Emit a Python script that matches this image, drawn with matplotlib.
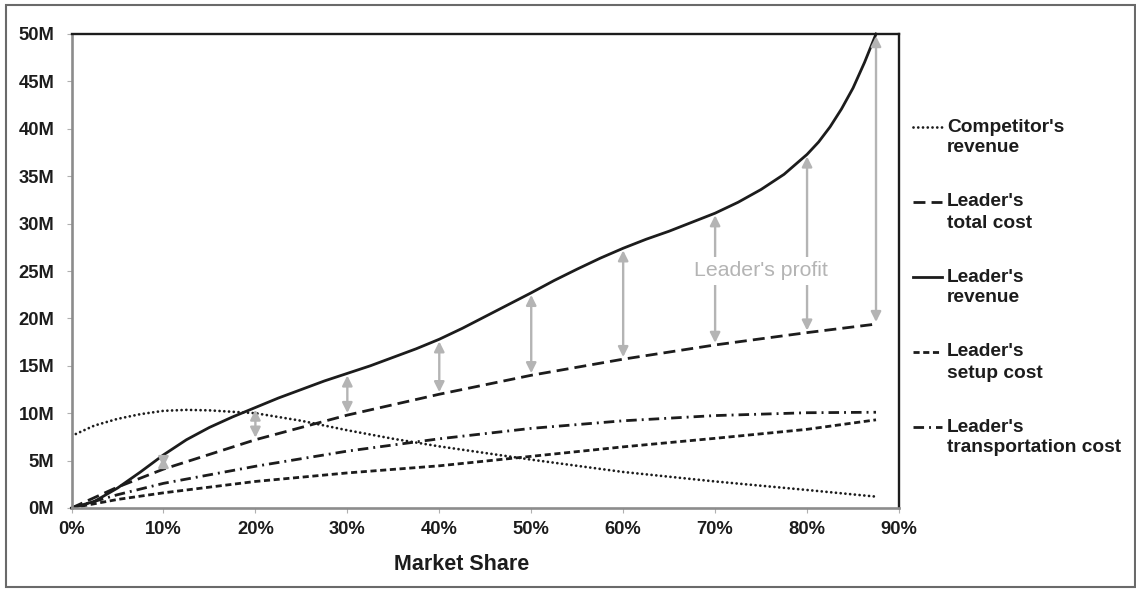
import matplotlib.pyplot as plt
import matplotlib.lines as mlines
import matplotlib.patches as mpatches
from matplotlib.ticker import FuncFormatter, MultipleLocator

plt.rcParams['font.family'] = ['Liberation Sans', 'DejaVu Sans']

# market share (%) and values (millions)
rev_share = [0, 2.5, 5, 7.5, 10, 12.5, 15, 17.5, 20, 22.5, 25, 27.5, 30, 32.5,
             35, 37.5, 40, 42.5, 45, 47.5, 50, 52.5, 55, 57.5, 60, 62.5, 65,
             67.5, 70, 72.5, 75, 77.5, 80, 81.25, 82.5, 83.75, 85, 86.25, 87.5]
leader_revenue = [0, 0.7, 2.1, 3.8, 5.6, 7.2, 8.5, 9.6, 10.6, 11.6, 12.5, 13.4,
                  14.2, 15.0, 15.9, 16.8, 17.8, 18.95, 20.2, 21.45, 22.7, 24.0,
                  25.2, 26.35, 27.4, 28.35, 29.2, 30.15, 31.1, 32.25, 33.6,
                  35.2, 37.3, 38.6, 40.2, 42.1, 44.3, 47.0, 50.0]

comp_share = [0, 2.5, 5, 7.5, 10, 12.5, 15, 20, 25, 30, 35, 40, 45, 50, 60,
              70, 80, 87.5]
competitor_revenue = [7.6, 8.7, 9.4, 9.9, 10.25, 10.35, 10.3, 10.0, 9.2, 8.2,
                      7.3, 6.5, 5.8, 5.1, 3.8, 2.8, 1.9, 1.2]

cost_share = [0, 5, 10, 20, 30, 40, 50, 60, 70, 80, 87.5]
total_cost = [0, 2.2, 4.1, 7.2, 9.8, 12.0, 14.0, 15.7, 17.2, 18.5, 19.4]
setup_cost = [0, 0.9, 1.6, 2.8, 3.7, 4.45, 5.45, 6.45, 7.35, 8.3, 9.3]
transport_cost = [0, 1.4, 2.6, 4.4, 6.0, 7.3, 8.4, 9.2, 9.75, 10.05, 10.1]

profit_share = [10, 20, 30, 40, 50, 60, 70, 80, 87.5]

ink = '#1c1c1c'
grey = '#b4b4b4'
LW = 2.0

styles = {
    'competitor': dict(dashes=(0.01, 1.7), dash_capstyle='round'),
    'total': dict(dashes=(4.3, 2.2)),
    'revenue': dict(linestyle='-'),
    'setup': dict(dashes=(2.2, 1.3)),
    'transport': dict(dashes=(3.8, 1.8, 0.7, 1.8)),
}

fig = plt.figure(figsize=(11.36, 5.89), dpi=100)
ax = fig.add_axes([71.5 / 1136, 1 - 508 / 589, (899 - 71.5) / 1136, (508 - 34) / 589])

ax.plot(comp_share, competitor_revenue, color=ink, lw=LW, **styles['competitor'])
ax.plot(cost_share, total_cost, color=ink, lw=LW, **styles['total'])
ax.plot(cost_share, setup_cost, color=ink, lw=LW, **styles['setup'])
ax.plot(cost_share, transport_cost, color=ink, lw=LW, **styles['transport'])
ax.plot(rev_share, leader_revenue, color=ink, lw=LW, clip_on=False, **styles['revenue'])

# profit arrows between revenue and total cost
rev_at = dict(zip(rev_share, leader_revenue))
cost_at = dict(zip(cost_share, total_cost))
for s in profit_share:
    ax.annotate('', xy=(s, cost_at[s]), xytext=(s, rev_at[s]),
                arrowprops=dict(arrowstyle='<|-|>,head_length=0.6,head_width=0.3',
                                color=grey, lw=1.7, mutation_scale=10,
                                shrinkA=1.5, shrinkB=1.5))

ax.text(75, 25, "Leader's profit", color=grey, fontsize=15.3, ha='center', va='center',
        zorder=5, bbox=dict(boxstyle='square,pad=0.22', fc='white', ec='none'))

ax.set_xlim(0, 90)
ax.set_ylim(0, 50)
ax.xaxis.set_major_locator(MultipleLocator(10))
ax.yaxis.set_major_locator(MultipleLocator(5))
ax.xaxis.set_major_formatter(FuncFormatter(lambda v, p: f'{v:.0f}%'))
ax.yaxis.set_major_formatter(FuncFormatter(lambda v, p: f'{v:.0f}M'))

for side in ['top', 'right']:
    ax.spines[side].set_color(ink)
    ax.spines[side].set_linewidth(1.7)
for side in ['left', 'bottom']:
    ax.spines[side].set_color('#8c8c8c')
    ax.spines[side].set_linewidth(1.9)

ax.tick_params(axis='y', length=3.5, width=0.8, color='#b0b0b0', pad=9,
               labelsize=13.2, labelcolor=ink)
ax.tick_params(axis='x', length=3.5, width=0.8, color='#b0b0b0', pad=6,
               labelsize=13.2, labelcolor=ink)
for lab in ax.get_xticklabels() + ax.get_yticklabels():
    lab.set_fontweight('bold')

ax.set_xlabel('Market Share', fontsize=15.5, fontweight='bold', color=ink)
ax.xaxis.set_label_coords((462 - 71.5) / 827.5, -(565 - 508) / 474)
ax.xaxis.label.set_va('center')

# legend drawn to the right of the plot
legend_rows = [
    ('competitor', "Competitor's", 'revenue', 127),
    ('total', "Leader's", 'total cost', 202),
    ('revenue', "Leader's", 'revenue', 277),
    ('setup', "Leader's", 'setup cost', 352),
    ('transport', "Leader's", 'transportation cost', 427),
]
W, H = 1136, 589
for key, line1, line2, y in legend_rows:
    fig.add_artist(mlines.Line2D([913 / W, 942 / W], [1 - y / H, 1 - y / H],
                                 color=ink, lw=LW, transform=fig.transFigure,
                                 **styles[key]))
    fig.text(947 / W, 1 - y / H, line1, fontsize=13.8, fontweight='bold',
             color=ink, va='center', ha='left')
    fig.text(947 / W, 1 - (y + 21) / H, line2, fontsize=13.8, fontweight='bold',
             color=ink, va='center', ha='left')

# thin frame around the whole chart
fig.add_artist(mpatches.Rectangle((6 / W, 1 - 587 / H), (1135 - 6) / W, (587 - 5) / H,
                                  fill=False, ec='#6a6a6a', lw=1.5,
                                  transform=fig.transFigure))

fig.savefig('out.png', dpi=100, facecolor='white')
